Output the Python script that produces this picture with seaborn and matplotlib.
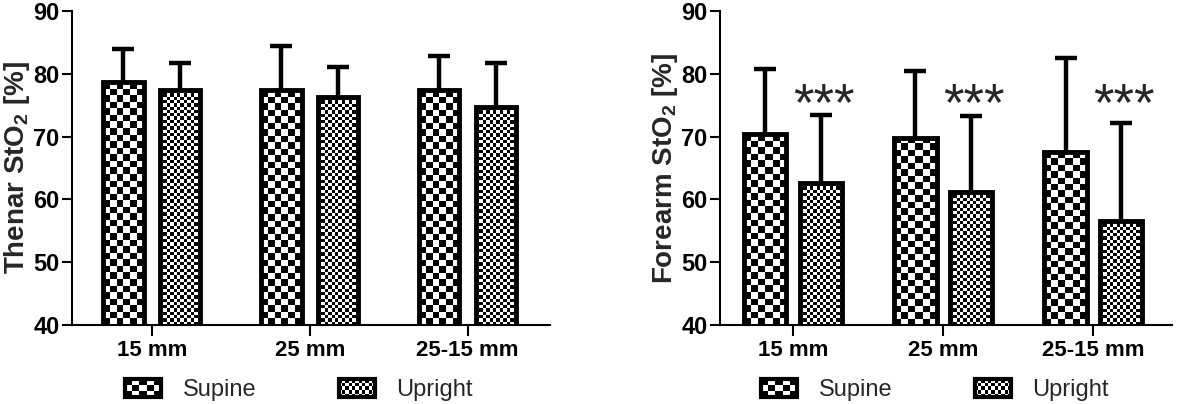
import numpy as np
import pandas as pd
import seaborn as sns
import matplotlib.pyplot as plt
from matplotlib.patches import Rectangle
from matplotlib.legend_handler import HandlerBase

# data (mean and upper SD)
distances = ['15 mm', '25 mm', '25-15 mm']
positions = ['Supine', 'Upright']

thenar_supine = [78.7, 77.4, 77.4]
thenar_supine_sd = [5.3, 7.0, 5.4]
thenar_upright = [77.4, 76.3, 74.7]
thenar_upright_sd = [4.3, 4.8, 7.0]

forearm_supine = [70.4, 69.8, 67.5]
forearm_supine_sd = [10.4, 10.6, 15.0]
forearm_upright = [62.6, 61.2, 56.6]
forearm_upright_sd = [10.8, 12.1, 15.6]
forearm_stars = ['***', '***', '***']
star_level = 74.8

yticks = [40, 50, 60, 70, 80, 90]

# checker cell size in pixels per group, legend swatch grid
cell_px = {'Supine': 6.5, 'Upright': 3.3}
legend_grid = {'Supine': (5, 3), 'Upright': (11, 5)}

sns.set_style('ticks')
plt.rcParams['font.family'] = ['Liberation Sans', 'DejaVu Sans']
plt.rcParams['mathtext.fontset'] = 'custom'
plt.rcParams['mathtext.rm'] = 'Liberation Sans'
plt.rcParams['mathtext.bf'] = 'Liberation Sans:bold'


class CheckerHandler(HandlerBase):
    def __init__(self, ncols, nrows):
        super().__init__()
        self.ncols = ncols
        self.nrows = nrows

    def create_artists(self, legend, orig_handle, xdescent, ydescent,
                       width, height, fontsize, trans):
        x0, y0 = -xdescent, -ydescent
        arts = [Rectangle((x0, y0), width, height, facecolor='white',
                          lw=0, transform=trans)]
        cw = width / self.ncols
        ch = height / self.nrows
        for r in range(self.nrows):
            for c in range(self.ncols):
                if (r + c) % 2 == 0:
                    arts.append(Rectangle((x0 + c * cw, y0 + r * ch), cw, ch,
                                          facecolor='black', lw=0, transform=trans))
        arts.append(Rectangle((x0, y0), width, height, facecolor='none',
                              edgecolor='black', lw=3, transform=trans))
        return arts


def draw_panel(ax, supine, supine_sd, upright, upright_sd, ylabel, xlim,
               width, gap, stars=None):
    df = pd.DataFrame({'distance': distances * 2,
                       'position': ['Supine'] * 3 + ['Upright'] * 3,
                       'value': supine + upright})
    sns.barplot(data=df, x='distance', y='value', hue='position',
                order=distances, hue_order=positions, palette=['white', 'white'],
                width=width, gap=gap, errorbar=None, legend=False, ax=ax)
    ax.set_xlim(xlim)
    ax.set_ylim(40, 90)

    bars = sorted(ax.patches, key=lambda p: p.get_x())
    sds = []
    for i in range(3):
        sds += [supine_sd[i], upright_sd[i]]

    for i, p in enumerate(bars):
        pos = positions[i % 2]
        x0, w, h = p.get_x(), p.get_width(), p.get_height()
        # checker fill
        (px0, py0) = ax.transData.transform((x0, 40))
        (px1, py1) = ax.transData.transform((x0 + w, h))
        ncols = max(1, int(round((px1 - px0) / cell_px[pos])))
        nrows = max(1, int(round((py1 - py0) / cell_px[pos])))
        checker = np.indices((nrows, ncols)).sum(axis=0) % 2
        im = ax.imshow(checker, cmap='gray', vmin=0, vmax=1, origin='upper',
                       extent=(x0, x0 + w, 40, h), aspect='auto',
                       interpolation='nearest', zorder=1)
        im.set_clip_path(p)
        p.set_facecolor('none')
        p.set_edgecolor('black')
        p.set_linewidth(3.5)
        p.set_zorder(3)
        # upper SD only
        eb = ax.errorbar(x0 + w / 2, h, yerr=[[0], [sds[i]]], fmt='none',
                         ecolor='black', elinewidth=3.2, capsize=8, capthick=3.2,
                         zorder=2)
        eb[1][0].set_visible(False)
        if stars is not None and pos == 'Upright':
            ax.text(x0 + w / 2 + 0.02, star_level, stars[i // 2], ha='center',
                    va='center', fontsize=38, zorder=4)

    ax.set_xlim(xlim)
    ax.set_ylim(40, 90)
    ax.set_yticks(yticks)
    ax.set_yticklabels(yticks, fontsize=17, fontweight='bold')
    ax.set_xticks(range(len(distances)))
    ax.set_xticklabels(distances, fontsize=16, fontweight='bold')
    ax.tick_params(axis='y', width=1.5, length=7, pad=2, colors='black')
    ax.tick_params(axis='x', width=1.5, length=8, pad=3, colors='black')
    ax.set_xlabel('')
    ax.set_ylabel(ylabel, fontsize=20, fontweight='bold', labelpad=1)
    sns.despine(ax=ax)
    for s in ['left', 'bottom']:
        ax.spines[s].set_linewidth(1.5)
        ax.spines[s].set_color('black')

    h1 = Rectangle((0, 0), 1, 1)
    h2 = Rectangle((0, 0), 1, 1)
    ax.legend([h1, h2], positions,
              handler_map={h1: CheckerHandler(*legend_grid['Supine']),
                           h2: CheckerHandler(*legend_grid['Upright'])},
              loc='center', bbox_to_anchor=(0.475, -0.208), ncol=2,
              frameon=False, fontsize=17, handlelength=1.55, handleheight=0.8,
              handletextpad=0.9, columnspacing=3.5)


fig = plt.figure(figsize=(12, 4.04), dpi=100)
ax1 = fig.add_axes([0.06, 0.1955, 0.398, 0.777])
ax2 = fig.add_axes([0.6, 0.1955, 0.377, 0.777])

draw_panel(ax1, thenar_supine, thenar_supine_sd, thenar_upright, thenar_upright_sd,
           r'Thenar StO$_\mathbf{2}$ [%]', (-0.506, 2.519), 0.72, 0.29)
draw_panel(ax2, forearm_supine, forearm_supine_sd, forearm_upright, forearm_upright_sd,
           r'Forearm StO$_\mathbf{2}$ [%]', (-0.487, 2.527), 0.74, 0.24,
           stars=forearm_stars)

fig.savefig('out.png', dpi=100, facecolor='white')
